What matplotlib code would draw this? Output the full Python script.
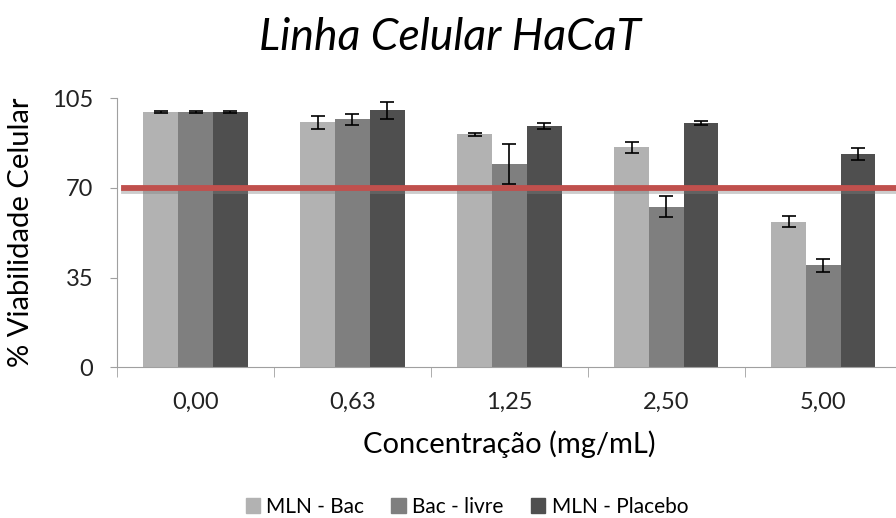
import numpy as np
import matplotlib.pyplot as plt
import matplotlib.patheffects as pe
from matplotlib.patches import Patch

plt.rcParams["font.family"] = ["Lato", "DejaVu Sans"]

concentracoes = ["0,00", "0,63", "1,25", "2,50", "5,00"]
series = ["MLN - Bac", "Bac - livre", "MLN - Placebo"]
mln_bac = [99.6, 95.6, 90.8, 85.8, 56.8]
bac_livre = [99.6, 96.7, 79.1, 62.6, 39.8]
mln_placebo = [99.6, 100.2, 94.2, 95.2, 83.2]
err_mln_bac = [0.3, 2.5, 0.7, 2.1, 2.1]
err_bac_livre = [0.3, 2.2, 7.8, 4.0, 2.6]
err_mln_placebo = [0.3, 3.4, 1.2, 0.8, 2.3]
limite = 70
cores = ["#b2b2b2", "#7f7f7f", "#4f4f4f"]

fig = plt.figure(figsize=(8.96, 5.18), dpi=100)
ax = fig.add_axes([0.1306, 0.291, 0.876, 0.5198])

x = np.arange(len(concentracoes))
w = 0.221
valores = [mln_bac, bac_livre, mln_placebo]
erros = [err_mln_bac, err_bac_livre, err_mln_placebo]
for i, (v, e) in enumerate(zip(valores, erros)):
    ax.bar(x + (i - 1) * w, v, w, color=cores[i], label=series[i], zorder=2)
    ax.errorbar(x + (i - 1) * w, v, yerr=e, fmt="none", ecolor="black",
                elinewidth=1.2, capsize=5, capthick=1.2, zorder=4)

# linha de corte em 70 %, com sombra
ax.axhline(limite, xmin=0.009, xmax=1, color="#c0504d", lw=4.2, zorder=3,
           path_effects=[pe.SimpleLineShadow(offset=(0, -2.5), shadow_color="gray", alpha=0.4),
                         pe.Normal()])

ax.set_xlim(-0.5, 4.5)
ax.set_ylim(0, 105)
ax.set_yticks([0, 35, 70, 105])
ax.set_xticks(x)
ax.set_xticklabels(concentracoes, fontsize=17, color="#222222")
ax.set_xticks(np.arange(-0.5, 4.6, 1), minor=True)
ax.tick_params(axis="x", which="major", length=0, pad=18)
ax.tick_params(axis="x", which="minor", length=7, color="#a0a0a0")
ax.tick_params(axis="y", length=5, color="#a0a0a0", labelsize=17, labelcolor="#222222", pad=12)
for s in ["top", "right"]:
    ax.spines[s].set_visible(False)
for s in ["left", "bottom"]:
    ax.spines[s].set_color("#a0a0a0")

ax.set_ylabel("% Viabilidade Celular", fontsize=21)
ax.yaxis.set_label_coords(-0.106, 0.5)
ax.set_xlabel("Concentração (mg/mL)", fontsize=21)
ax.xaxis.set_label_coords(0.5, -0.234)
fig.text(0.502, 0.928, "Linha Celular HaCaT", ha="center", va="center",
         fontsize=32, style="italic")

handles = [Patch(color=c) for c in cores]
fig.legend(handles, series, loc="center", bbox_to_anchor=(0.521, 0.022), ncol=3,
           frameon=False, fontsize=15, handlelength=0.7, handleheight=0.7,
           handletextpad=0.3, columnspacing=1.3, borderpad=0)

fig.savefig("out.png", dpi=100)
